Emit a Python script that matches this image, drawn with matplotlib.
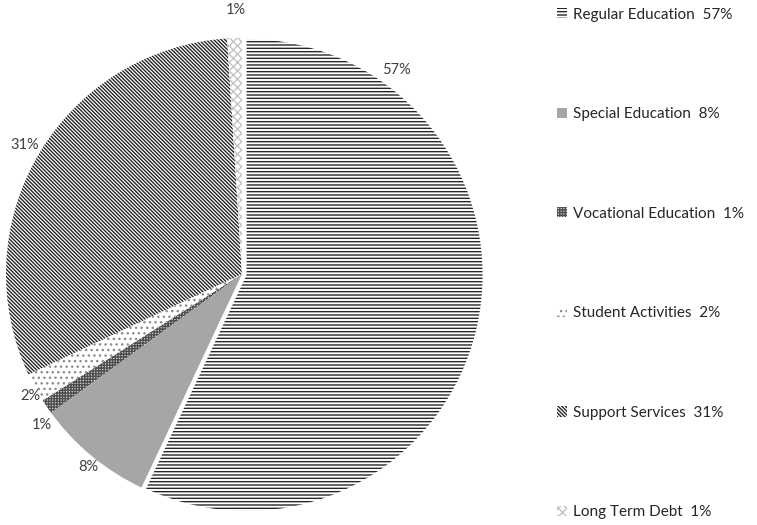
import matplotlib
matplotlib.use("Agg")
import matplotlib.pyplot as plt
import numpy as np

plt.rcParams['font.family'] = ['Lato', 'DejaVu Sans']
plt.rcParams['hatch.linewidth'] = 1.0

# budget share by category
categories = ['Regular Education', 'Special Education', 'Vocational Education',
              'Student Activities', 'Support Services', 'Long Term Debt']
shares = [57, 8, 1, 2, 31, 1]

# fill style per wedge: (face, hatch colour, hatch)
styles = [
    ('white', '#262626', '-----'),
    ('#a6a6a6', '#a6a6a6', ''),
    ('#d0d0d0', '#4d4d4d', '++++++'),
    ('white', '#8c8c8c', '...'),
    ('white', '#262626', '\\' * 9),
    ('white', '#c4c4c4', 'xxxx'),
]
explode = [0.02, 0, 0, 0, 0, 0]
# where each percentage label sits: clockwise degrees from 12 o'clock
# (None = wedge middle) plus a small tweak, and radius
label_angle = [37, None, None, None, None, None]
label_tweak = [0, -1, -2.8, -1.2, 0, 0.5]
label_radius = [1.085, 1.045, 1.06, 1.035, 1.07, 1.12]

fig = plt.figure(figsize=(7.57, 5.25), dpi=100)
W, H = 757, 525
cx, cy, R = 242, 274, 236
ax = fig.add_axes([(cx - R) / W, (H - cy - R) / H, 2 * R / W, 2 * R / H])

wedges, texts, autotexts = ax.pie(
    shares, startangle=90, counterclock=False, explode=explode,
    autopct='%1.0f%%', pctdistance=1.07,
    textprops=dict(fontsize=10.5, color='#404040'))
for w, (fc, hc, hatch) in zip(wedges, styles):
    w.set_facecolor(fc)
    w.set_edgecolor(hc)
    w.set_hatch(hatch)
    w.set_linewidth(0)

for w, t, a, d, r in zip(wedges, autotexts, label_angle, label_tweak, label_radius):
    if a is None:
        a = 90 - (w.theta1 + w.theta2) / 2
    a = np.deg2rad(a + d)
    t.set_position((r * np.sin(a), r * np.cos(a)))

ax.set_xlim(-1, 1)
ax.set_ylim(-1, 1)
ax.set_aspect('equal')
ax.axis('off')

labels = [f'{c}  {s}%' for c, s in zip(categories, shares)]
leg = fig.legend(wedges, labels, loc='upper left',
                 bbox_to_anchor=(549 / W, 1 - 0 / H), frameon=False,
                 fontsize=11, labelspacing=5.6, handlelength=0.65,
                 handleheight=0.65, handletextpad=0.4, borderpad=0,
                 labelcolor='#262626')

fig.savefig('out.png', dpi=100, facecolor='white')
